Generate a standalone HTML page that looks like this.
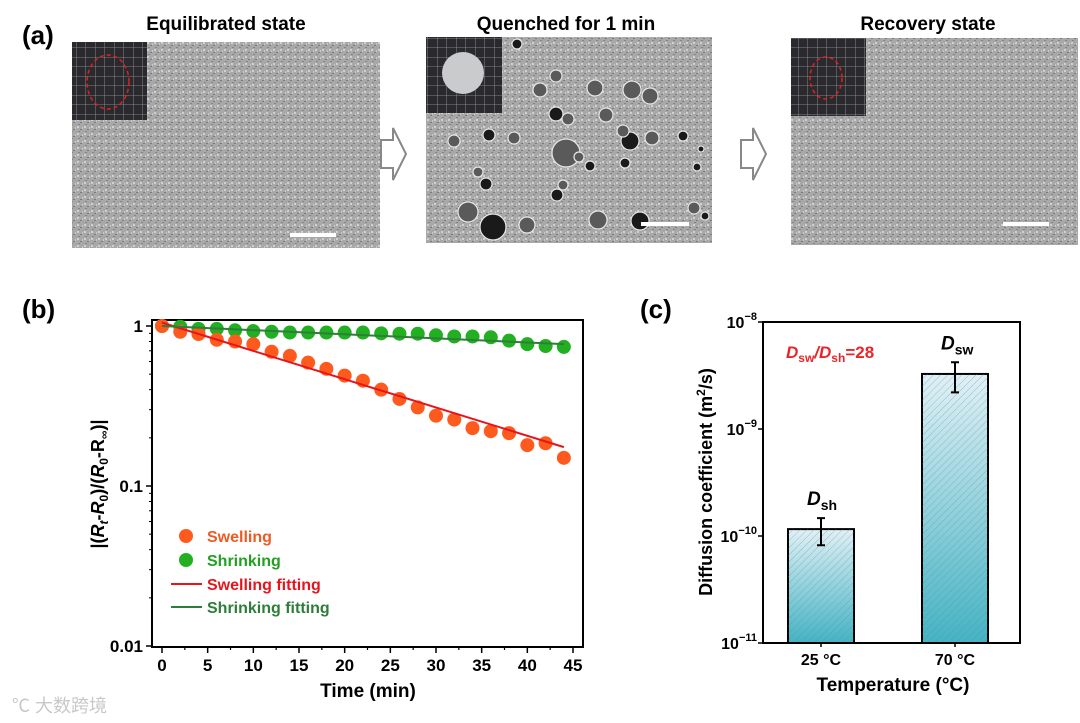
<!DOCTYPE html>
<html><head><meta charset="utf-8">
<style>
body{margin:0;background:#fff;}
svg{display:block;font-family:"Liberation Sans","Noto Sans CJK SC",sans-serif;}
</style></head>
<body>
<svg id="fig" width="1080" height="723" viewBox="0 0 1080 723" xmlns="http://www.w3.org/2000/svg">
<defs>
<pattern id="grid" width="9.5" height="9.5" patternUnits="userSpaceOnUse"><rect width="9.5" height="9.5" fill="#2a2a2e"/><path d="M0 0H9.5M0 0V9.5" stroke="#9a9aa0" stroke-width="0.8"/></pattern>
<pattern id="noise" width="7" height="7" patternUnits="userSpaceOnUse"><rect width="7" height="7" fill="#a8a8a8"/><rect x="0" y="0" width="2" height="2" fill="#d0d0d0"/><rect x="3" y="3" width="2" height="1" fill="#7a7a7a"/><rect x="5" y="1" width="1" height="2" fill="#c8c8c8"/><rect x="1" y="5" width="2" height="1" fill="#848484"/></pattern>
<pattern id="hatch" width="5" height="5" patternUnits="userSpaceOnUse" patternTransform="rotate(45)"><line x1="0" y1="0" x2="0" y2="5" stroke="#4a8fa2" stroke-width="0.8" opacity="0.6"/></pattern>
<linearGradient id="barg" x1="0" y1="0" x2="0" y2="1"><stop offset="0" stop-color="#e2f0f5"/><stop offset="1" stop-color="#45b3c3"/></linearGradient>
</defs>

<text x="22" y="44" font-size="26" font-weight="bold">(a)</text>
<g>
<text x="226" y="30" font-size="19" font-weight="bold" text-anchor="middle">Equilibrated state</text>
<rect x="72" y="42" width="308" height="206" fill="url(#noise)"/>
<rect x="72" y="42" width="75" height="78" fill="url(#grid)"/>
<ellipse cx="108" cy="82" rx="21" ry="27" fill="none" stroke="#d22" stroke-width="1.5" stroke-dasharray="4 3"/>
<rect x="290" y="233" width="46" height="4" fill="#fff"/>
</g>
<polygon points="381,140 393,140 393,128 406,154 393,180 393,168 381,168" fill="#fff" stroke="#888" stroke-width="2"/>
<g>
<text x="566" y="30" font-size="19" font-weight="bold" text-anchor="middle">Quenched for 1 min</text>
<rect x="426" y="37" width="286" height="206" fill="url(#noise)"/>
<g id="pores"></g>
<rect x="426" y="37" width="76" height="76" fill="url(#grid)"/>
<circle cx="463" cy="73" r="21" fill="#c9cbcc"/>
<rect x="641" y="222" width="48" height="4" fill="#fff"/>
</g>
<polygon points="741,140 753,140 753,128 766,154 753,180 753,168 741,168" fill="#fff" stroke="#888" stroke-width="2"/>
<g>
<text x="928" y="30" font-size="19" font-weight="bold" text-anchor="middle">Recovery state</text>
<rect x="791" y="38" width="287" height="207" fill="url(#noise)"/>
<rect x="791" y="38" width="75" height="78" fill="url(#grid)"/>
<ellipse cx="826" cy="78" rx="16" ry="21" fill="none" stroke="#d22" stroke-width="1.5" stroke-dasharray="4 3"/>
<rect x="1003" y="222" width="46" height="4" fill="#fff"/>
</g>

<text x="22" y="318" font-size="26" font-weight="bold">(b)</text>
<g id="chartB"></g>
<text transform="translate(104,484) rotate(-90)" font-size="18" font-weight="bold" text-anchor="middle">|(<tspan font-style="italic">R</tspan><tspan font-style="italic" font-size="12" dy="4">t</tspan><tspan dy="-4">-</tspan><tspan font-style="italic">R</tspan><tspan font-size="12" dy="4">0</tspan><tspan dy="-4">)/(</tspan><tspan font-style="italic">R</tspan><tspan font-size="12" dy="4">0</tspan><tspan dy="-4">-R</tspan><tspan font-size="12" dy="4">∞</tspan><tspan dy="-4">)|</tspan></text>
<text x="368" y="697" font-size="19" font-weight="bold" text-anchor="middle">Time (min)</text>

<text x="640" y="318" font-size="26" font-weight="bold">(c)</text>
<g id="chartC"></g>
<text transform="translate(712,482) rotate(-90)" font-size="18" font-weight="bold" text-anchor="middle">Diffusion coefficient (m<tspan font-size="12" dy="-7">2</tspan><tspan dy="7">/s)</tspan></text>
<text x="893" y="691" font-size="19" font-weight="bold" text-anchor="middle">Temperature (°C)</text>
<text x="786" y="358" font-size="17" font-weight="bold" fill="#e8262a"><tspan font-style="italic">D</tspan><tspan font-size="12" dy="4">sw</tspan><tspan dy="-4" font-style="italic">/D</tspan><tspan font-size="12" dy="4">sh</tspan><tspan dy="-4">=28</tspan></text>

<text x="12" y="712" font-size="18" fill="#c8c8c8">℃ 大数跨境</text>

<script>
const times = [0,2,4,6,8,10,12,14,16,18,20,22,24,26,28,30,32,34,36,38,40,42,44];
const swelling = [1.0,0.92,0.89,0.82,0.80,0.77,0.69,0.65,0.59,0.54,0.49,0.455,0.40,0.35,0.31,0.275,0.26,0.23,0.22,0.214,0.18,0.185,0.15];
const shrinking = [1.0,0.99,0.96,0.96,0.94,0.93,0.92,0.91,0.91,0.91,0.91,0.91,0.90,0.895,0.895,0.875,0.86,0.86,0.85,0.81,0.77,0.75,0.74];
const swellFitT = [0,44];
const swellFitV = [1.05,0.175];
const shrinkFitT = [0,44];
const shrinkFitV = [1.0,0.77];
const xTicksB = [0,5,10,15,20,25,30,35,40,45];
const yTicksB = [1,0.1,0.01];
const yTickLabelsB = ["1","0.1","0.01"];
const tempCats = ["25 °C","70 °C"];
const diffVals = [1.16e-10,3.27e-9];
const diffErrLo = [0.82e-10,2.2e-9];
const diffErrHi = [1.47e-10,4.2e-9];
const barLabels = ["sh","sw"];
const yExpC = [-8,-9,-10,-11];

const NS="http://www.w3.org/2000/svg";
function mk(parent,tag,attrs){const e=document.createElementNS(NS,tag);for(const k in attrs)e.setAttribute(k,attrs[k]);parent.appendChild(e);return e;}
function ts(parent,txt,attrs){const t=mk(parent,'tspan',attrs||{});t.textContent=txt;return t;}

const pores=document.getElementById('pores');
[[442,79,6,1],[517,44,5,1],[540,90,7,0],[556,76,6,0],[595,88,8,0],[632,90,9,0],[650,96,8,0],[556,114,7,1],[568,119,6,0],[606,115,7,0],[630,141,9,1],[489,135,6,1],[514,138,6,0],[454,141,6,0],[566,153,14,0],[652,138,7,0],[579,157,5,0],[486,184,6,1],[478,172,5,0],[590,166,5,1],[625,163,5,1],[468,212,10,0],[493,227,13,1],[527,225,8,0],[598,220,9,0],[557,195,6,1],[640,221,9,1],[694,208,6,0],[697,167,4,1],[705,216,4,1],[563,185,5,0],[683,136,5,1],[701,149,3,1],[623,131,6,0]].forEach(p=>{
  const c=mk(pores,'circle',{cx:p[0],cy:p[1],r:p[2],fill:p[3]?'#1a1a1a':'#5a5a5a',stroke:'#e8e8e8','stroke-width':1.2});
  
  
});

const gB=document.getElementById('chartB');
const bx0=152,bx1=583,by0=320,by1=647;
const xB=t=>162+t*(573-162)/45;
const yB=v=>326-Math.log10(v)*160;
const frame=mk(gB,'rect',{x:bx0,y:by0,width:bx1-bx0,height:by1-by0,fill:'none',stroke:'#000','stroke-width':2});


xTicksB.forEach(t=>{
  mk(gB,'line',{x1:xB(t),x2:xB(t),y1:by1,y2:by1+6,stroke:'#000','stroke-width':1.5});
  if(t<45) mk(gB,'line',{x1:xB(t+2.5),x2:xB(t+2.5),y1:by1,y2:by1+3,stroke:'#000','stroke-width':1.2});
  const l=mk(gB,'text',{x:xB(t),y:by1+24,'font-size':17,'font-weight':'bold','text-anchor':'middle'});
  l.textContent=t;
  
  
});
yTicksB.forEach((v,i)=>{
  mk(gB,'line',{x1:bx0-6,x2:bx0,y1:yB(v),y2:yB(v),stroke:'#000','stroke-width':1.5});
  if(v<1){for(let m=2;m<10;m++){mk(gB,'line',{x1:bx0-3,x2:bx0,y1:yB(v*m),y2:yB(v*m),stroke:'#000','stroke-width':1});}}
  const l=mk(gB,'text',{x:bx0-9,y:yB(v)+6,'font-size':17,'font-weight':'bold','text-anchor':'end'});
  l.textContent=yTickLabelsB[i];
  
  
});
times.forEach((t,i)=>{
  const c=mk(gB,'circle',{cx:xB(t),cy:yB(shrinking[i]),r:7,fill:'#22b022'});
  
  
});
times.forEach((t,i)=>{
  const c=mk(gB,'circle',{cx:xB(t),cy:yB(swelling[i]),r:7,fill:'#ff5a1e'});
  
  
});
const fs=mk(gB,'line',{x1:xB(swellFitT[0]),y1:yB(swellFitV[0]),x2:xB(swellFitT[1]),y2:yB(swellFitV[1]),stroke:'#e8141c','stroke-width':2});


const fk=mk(gB,'line',{x1:xB(shrinkFitT[0]),y1:yB(shrinkFitV[0]),x2:xB(shrinkFitT[1]),y2:yB(shrinkFitV[1]),stroke:'#2e7d3a','stroke-width':2});


[["Swelling","#ff5a1e","#ee5a24","dot",536],["Shrinking","#22b022","#22a022","dot",560],["Swelling fitting","#e8141c","#e8141c","line",584],["Shrinking fitting","#2e7d3a","#2e7d3a","line",607]].forEach(L=>{
  if(L[3]==='dot'){const d=mk(gB,'circle',{cx:186,cy:L[4],r:7,fill:L[1]});}
  else{const d=mk(gB,'line',{x1:171,x2:202,y1:L[4],y2:L[4],stroke:L[1],'stroke-width':2});}
  const t=mk(gB,'text',{x:207,y:L[4]+6,'font-size':16,'font-weight':'bold',fill:L[2]});
  t.textContent=L[0];
  
  
});

const gC=document.getElementById('chartC');
const cx0=763,cx1=1020,cy0=322,cy1=643;
const yC=v=>cy0+(-8-Math.log10(v))*((cy1-cy0)/3);
const xC=i=>[821,955][i];
const bw=66;
yExpC.forEach(e=>{
  const y=yC(Math.pow(10,e));
  mk(gC,'line',{x1:cx0-5,x2:cx0,y1:y,y2:y,stroke:'#000','stroke-width':1.5});
  const l=mk(gC,'text',{x:cx0-6,y:y+6,'font-size':16,'font-weight':'bold','text-anchor':'end'});
  ts(l,'10');
  ts(l,'−'+(-e),{'font-size':11,dy:-8});
  
  
});
tempCats.forEach((c,i)=>{
  const top=yC(diffVals[i]);
  const b=mk(gC,'rect',{x:xC(i)-bw/2,y:top,width:bw,height:cy1-top,fill:'url(#barg)',stroke:'#000','stroke-width':2});
  
  
  mk(gC,'rect',{x:xC(i)-bw/2,y:top,width:bw,height:cy1-top,fill:'url(#hatch)'});
  const yl=yC(diffErrLo[i]),yh=yC(diffErrHi[i]);
  const eb=mk(gC,'path',{d:`M${xC(i)} ${yl}V${yh}M${xC(i)-4} ${yl}H${xC(i)+4}M${xC(i)-4} ${yh}H${xC(i)+4}`,stroke:'#000','stroke-width':2,fill:'none'});
  
  
  const lb=mk(gC,'text',{x:xC(i)-14,y:yh-13,'font-size':19,'font-weight':'bold'});
  ts(lb,'D',{'font-style':'italic'});
  ts(lb,barLabels[i],{'font-size':14,dy:5});
  
  
  mk(gC,'line',{x1:xC(i),x2:xC(i),y1:cy1,y2:cy1+4,stroke:'#000','stroke-width':1.5});
  const xl=mk(gC,'text',{x:xC(i),y:cy1+22,'font-size':16,'font-weight':'bold','text-anchor':'middle'});
  xl.textContent=c;
  
  
});
const fc=mk(gC,'rect',{x:cx0,y:cy0,width:cx1-cx0,height:cy1-cy0,fill:'none',stroke:'#000','stroke-width':2});


</script>
</svg>
</body></html>
